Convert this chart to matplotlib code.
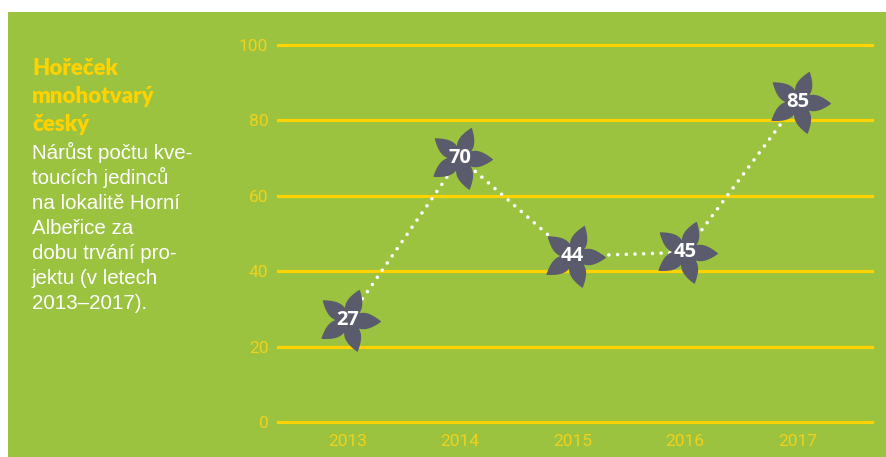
import numpy as np
import matplotlib
matplotlib.use("Agg")
import matplotlib.pyplot as plt
from matplotlib.path import Path
from matplotlib.patches import Rectangle

# data
years = ["2013", "2014", "2015", "2016", "2017"]
counts = [27, 70, 44, 45, 85]
y_ticks = [0, 20, 40, 60, 80, 100]

title_lines = ["Hořeček", "mnohotvarý", "český"]
body_lines = ["Nárůst počtu kve-", "toucích jedinců", "na lokalitě Horní",
              "Albeřice za", "dobu trvání pro-", "jektu (v letech", "2013–2017)."]

GREEN = "#9bc33f"
YELLOW = "#ffd200"
FLOWER = "#5a5b6c"

W, H = 887, 457


def fx(px):
    return px / W


def fy(py):
    return 1 - py / H


# flower marker: 5 pointed petals, pinwheel-ish
def flower_path(start=70, ratio=0.5):
    t = np.linspace(0, 1, 40)
    xs = t
    ys = ratio / 2 * np.sin(np.pi * t) ** 0.85 * (1.2 - 0.4 * t)
    top = np.column_stack([xs, ys])
    bot = np.column_stack([xs[::-1], -ys[::-1]])
    petal = np.vstack([top, bot[1:]])
    verts, codes = [], []
    for k in range(5):
        a = np.deg2rad(start - 72 * k)
        rot = np.array([[np.cos(a), -np.sin(a)], [np.sin(a), np.cos(a)]])
        p = petal @ rot.T
        verts.extend(p.tolist())
        codes.extend([Path.MOVETO] + [Path.LINETO] * (len(p) - 2) + [Path.CLOSEPOLY])
    return Path(verts, codes)


fig = plt.figure(figsize=(W / 100, H / 100), dpi=100)
fig.patch.set_facecolor("white")
fig.patches.append(Rectangle((fx(8), 0), 1 - fx(8), fy(12), transform=fig.transFigure,
                             facecolor=GREEN, edgecolor="none", zorder=-5))

ax = fig.add_axes([fx(278), fy(422), fx(872 - 278), (422 - 45) / H])
ax.patch.set_alpha(0)
for s in ax.spines.values():
    s.set_visible(False)

x = np.arange(len(years))
ax.set_xlim(-0.618, 4.662)
ax.set_ylim(0, 100)

for yv in y_ticks:
    ax.axhline(yv, color=YELLOW, lw=2.3, clip_on=False, zorder=1)

ax.plot(x, counts, color="white", lw=2.6, linestyle=(0, (0.01, 2.4)),
        dash_capstyle="round", zorder=2)
ax.plot(x, counts, linestyle="none", marker=flower_path(), markersize=47,
        color=FLOWER, markeredgewidth=0, zorder=3)
for xi, v in zip(x, counts):
    ax.text(xi, v, str(v), color="white", fontsize=14.5, fontweight="bold",
            family="Open Sans", ha="center", va="center", zorder=4)

ax.set_xticks(x)
ax.set_xticklabels(years)
ax.set_yticks(y_ticks)
ax.tick_params(length=0, labelcolor="#f0d21c", labelsize=12.5)
ax.tick_params(axis="x", pad=9)
ax.tick_params(axis="y", pad=7)
for lab in ax.get_xticklabels() + ax.get_yticklabels():
    lab.set_family("Roboto")

# left side text
for i, line in enumerate(title_lines):
    fig.text(fx(32), fy(75 + 28 * i), line, color=YELLOW, fontsize=16,
             fontweight="heavy", family="Lato", va="baseline")
for i, line in enumerate(body_lines):
    fig.text(fx(32), fy(159 + 25 * i), line, color="white", fontsize=14.8,
             family="Liberation Sans", va="baseline")

fig.savefig("out.png", dpi=100, facecolor=fig.get_facecolor())
